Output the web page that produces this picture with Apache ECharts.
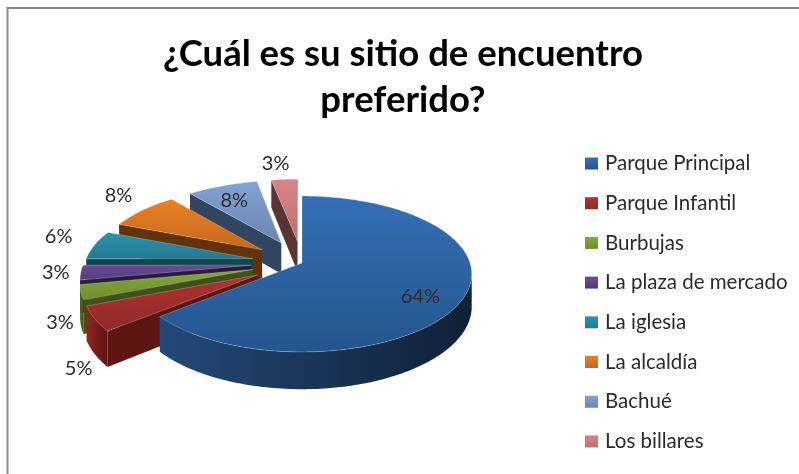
<!DOCTYPE html>
<html><head><meta charset="utf-8">
<style>html,body{margin:0;padding:0;background:#fff}#c{width:799px;height:474px}</style>
<script src="https://cdn.jsdelivr.net/npm/echarts@6/dist/echarts.min.js"></script>
</head><body><div id="c"></div>
<script>
const titleText = '¿Cuál es su sitio de encuentro\npreferido?';
const categories = ['Parque Principal','Parque Infantil','Burbujas','La plaza de mercado','La iglesia','La alcaldía','Bachué','Los billares'];
const values = [64,5,3,3,6,8,8,3];
const explode = [0,0.3,0.3,0.3,0.3,0.3,0.3,0.3];
const topLight = ['#3470b6','#b03330','#85a83a','#6a4c96','#2c93ae','#ea8124','#83a3d6','#d98585'];
const topDark  = ['#25558e','#8f2927','#6f8e2e','#553b7c','#227a90','#c4681b','#6a84ab','#bd7070'];
const wallLight= ['#24497a','#8f2522','#52691c','#3a2658','#1a5c6c','#7c440f','#3f5478','#6f4140'];
const wallDark = ['#0f2037','#5e1512','#3f5117','#2a1a40','#144550','#62330b','#33465f','#5a3535'];
const labelRadius = [0.75,1.3,1.3,1.3,1.3,1.3,1.3,1.3];
const labelOffset = [[-1,8],[-16,50],[-21,30],[-25,0],[-36,-8],[-24,-15],[12,15],[-9,-16]];

const CX=302, CY=263, RX=168, RY=76.4, K=0.141, DEPTH=32;
const total = values.reduce((a,b)=>a+b,0);
function proj(u,v){const w=1/(1-K*v);return {x:CX+RX*u*w,y:CY+RY*v*w,d:DEPTH*w};}
function vgrad(a,b){return new echarts.graphic.LinearGradient(0,0,0,1,[{offset:0,color:a},{offset:1,color:b}]);}
function hgrad(a,b){return new echarts.graphic.LinearGradient(0,0,1,0,[{offset:0,color:a},{offset:1,color:b}]);}

function renderSlice(i){
  return function(params,api){
    const value=api.value(0);
    let before=0; for(let j=0;j<i;j++) before+=values[j];
    const t0=before/total*2*Math.PI, t1=(before+value)/total*2*Math.PI, tm=(t0+t1)/2;
    const eu=Math.sin(tm)*explode[i], ev=-Math.cos(tm)*explode[i];
    const apex=proj(eu,ev);
    const steps=Math.max(6,Math.ceil((t1-t0)/0.02));
    const arc=[];
    for(let s=0;s<=steps;s++){
      const t=t0+(t1-t0)*s/steps;
      arc.push(proj(eu+Math.sin(t),ev-Math.cos(t)));
    }
    const children=[];
    const wall=(pts,fill)=>{
      const poly=pts.map(p=>[p.x,p.y]).concat(pts.slice().reverse().map(p=>[p.x,p.y+p.d]));
      children.push({type:'polygon',shape:{points:poly},style:{fill:fill,stroke:null}});
    };
    // walls are visible when the clockwise edge runs leftwards on screen
    if(arc[0].x<apex.x) wall([apex,arc[0]],wallDark[i]);
    if(arc[steps].x>apex.x) wall([arc[steps],apex],wallDark[i]);
    let run=[];
    for(let s=0;s<steps;s++){
      if(arc[s+1].x<arc[s].x){ if(!run.length) run.push(arc[s]); run.push(arc[s+1]); }
    }
    if(run.length>1) wall(run,hgrad(wallLight[i],wallDark[i]));
    const top=[[apex.x,apex.y]].concat(arc.map(p=>[p.x,p.y]));
    children.push({type:'polygon',shape:{points:top},style:{fill:vgrad(topLight[i],topDark[i]),stroke:'rgba(255,255,255,0.22)',lineWidth:1}});
    const r=labelRadius[i];
    const l=proj(Math.sin(tm)*r,-Math.cos(tm)*r);
    children.push({type:'text',z2:10,style:{x:l.x+labelOffset[i][0],y:l.y+labelOffset[i][1],text:Math.round(value/total*100)+'%',
      fill:'#2b2b2b',font:'20px Lato',align:'center',verticalAlign:'middle'}});
    return {type:'group',children:children};
  };
}

const chart=echarts.init(document.getElementById('c'),null,{renderer:'canvas'});
chart.setOption({
  animation:false,
  backgroundColor:'#ffffff',
  title:{text:titleText,left:403,textAlign:'center',top:31,padding:0,
    textStyle:{fontFamily:'Lato',fontWeight:'bold',fontSize:36.5,color:'#000',lineHeight:46}},
  legend:{orient:'vertical',left:585,top:153,padding:0,itemWidth:13,itemHeight:12,itemGap:18.7,
    data:categories,selectedMode:false,icon:'rect',
    textStyle:{fontFamily:'Lato',fontSize:20.5,color:'#2b2b2b',padding:[0,0,0,2]}},
  graphic:[{type:'polyline',silent:true,shape:{points:[[7.5,474],[7.5,8],[799,8]]},style:{stroke:'#8a8a8a',lineWidth:2,fill:null}}],
  series:categories.map((name,i)=>({
    type:'custom',name:name,coordinateSystem:'none',z:2+categories.length-i,
    itemStyle:{color:vgrad(topLight[i],topDark[i])},
    renderItem:renderSlice(i),
    data:[[values[i]]]
  }))
});
</script></body></html>
